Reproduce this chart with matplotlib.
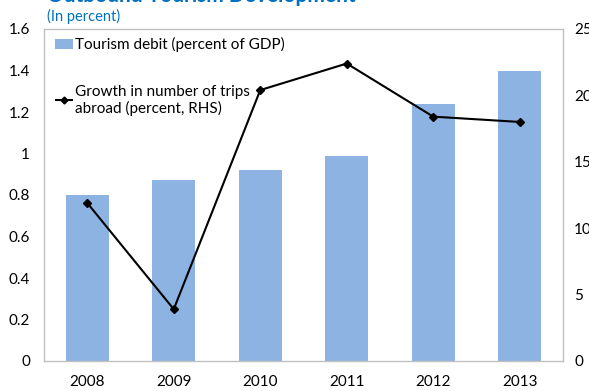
import matplotlib.pyplot as plt
from matplotlib.lines import Line2D
from matplotlib.patches import Patch

# data
years = ['2008', '2009', '2010', '2011', '2012', '2013']
tourism_debit = [0.80, 0.87, 0.92, 0.99, 1.24, 1.40]      # percent of GDP (LHS)
trips_growth = [11.9, 3.9, 20.4, 22.4, 18.4, 18.0]        # percent (RHS)

left_ticks = [0, 0.2, 0.4, 0.6, 0.8, 1, 1.2, 1.4, 1.6]
left_labels = ['0', '0.2', '0.4', '0.6', '0.8', '1', '1.2', '1.4', '1.6']
right_ticks = [0, 5, 10, 15, 20, 25]

blue = '#0070c0'
bar_col = '#8db3e2'
frame_col = '#c0c0c0'

plt.rcParams['font.family'] = ['Lato', 'DejaVu Sans']

fig = plt.figure(figsize=(5.89, 3.91), dpi=100)
ax = fig.add_axes([44/589, 1 - 361/391, (563 - 44)/589, (361 - 29)/391])

x = range(len(years))
ax.bar(x, tourism_debit, width=0.5, color=bar_col, zorder=2)
ax.set_xlim(-0.5, len(years) - 0.5)
ax.set_ylim(0, 1.6)
ax.set_yticks(left_ticks)
ax.set_yticklabels(left_labels)
ax.set_xticks(list(x))
ax.set_xticklabels(years)
ax.tick_params(axis='both', length=0, labelsize=11)
ax.tick_params(axis='x', pad=10)
ax.tick_params(axis='y', pad=10)
for s in ax.spines.values():
    s.set_color(frame_col)
    s.set_linewidth(1)

ax2 = ax.twinx()
ax2.plot(x, trips_growth, color='black', lw=1.5, marker='D', markersize=4.5, zorder=3)
ax2.set_ylim(0, 25)
ax2.set_yticks(right_ticks)
ax2.tick_params(axis='y', length=0, labelsize=11, pad=8)
for s in ax2.spines.values():
    s.set_visible(False)

handles = [Patch(facecolor=bar_col, edgecolor='none'),
           Line2D([0], [0], color='black', lw=1.5, marker='D', markersize=3.5, linestyle='--')]
labels = ['Tourism debit (percent of GDP)', 'Growth in number of trips\nabroad (percent, RHS)']
leg = ax.legend(handles, labels, loc='upper left', bbox_to_anchor=(0.005, 1.0),
                frameon=False, fontsize=11, handlelength=1.2, handletextpad=0.1,
                labelspacing=2.1, borderaxespad=0.15)

fig.text(47/589, 1 - 16/391, '(In percent)', color=blue, fontsize=10.5, va='center')
fig.text(47/589, 1 - 2/391, 'Outbound Tourism Development', color=blue,
         fontsize=15, fontweight='bold', va='baseline')

fig.savefig('out.png', dpi=100)
